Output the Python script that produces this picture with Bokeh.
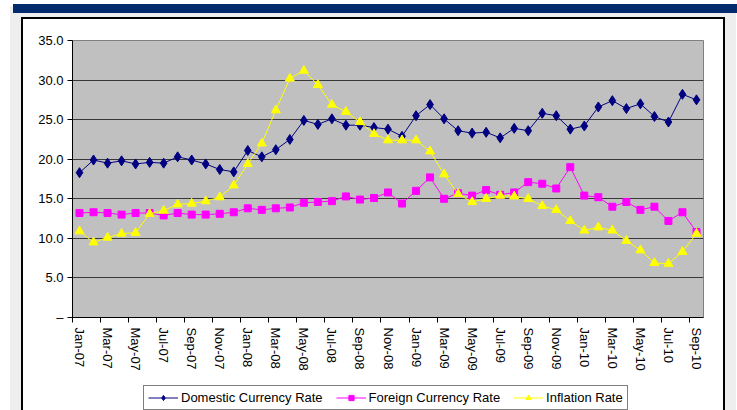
from bokeh.plotting import figure
from bokeh.layouts import column
from bokeh.models import (FixedTicker, NumeralTickFormatter, Legend, LegendItem,
                          Range1d, InlineStyleSheet)
from bokeh.embed import file_html
from bokeh.resources import INLINE

# ---------------- data ----------------
months = ["Jan-07", "Feb-07", "Mar-07", "Apr-07", "May-07", "Jun-07", "Jul-07", "Aug-07",
          "Sep-07", "Oct-07", "Nov-07", "Dec-07", "Jan-08", "Feb-08", "Mar-08", "Apr-08",
          "May-08", "Jun-08", "Jul-08", "Aug-08", "Sep-08", "Oct-08", "Nov-08", "Dec-08",
          "Jan-09", "Feb-09", "Mar-09", "Apr-09", "May-09", "Jun-09", "Jul-09", "Aug-09",
          "Sep-09", "Oct-09", "Nov-09", "Dec-09", "Jan-10", "Feb-10", "Mar-10", "Apr-10",
          "May-10", "Jun-10", "Jul-10", "Aug-10", "Sep-10"]

domestic = [18.3, 19.9, 19.5, 19.8, 19.4, 19.6, 19.5, 20.3, 19.9, 19.4, 18.7, 18.4,
            21.1, 20.3, 21.2, 22.5, 24.9, 24.4, 25.1, 24.3, 24.3, 24.0, 23.8, 22.9,
            25.5, 26.9, 25.1, 23.6, 23.3, 23.4, 22.7, 23.9, 23.6, 25.8, 25.5, 23.8,
            24.2, 26.6, 27.4, 26.4, 27.0, 25.4, 24.7, 28.2, 27.5]

foreign = [13.2, 13.3, 13.2, 13.0, 13.2, 13.2, 12.9, 13.2, 13.0, 13.0, 13.1, 13.3,
           13.8, 13.6, 13.8, 13.9, 14.5, 14.6, 14.7, 15.3, 14.9, 15.1, 15.8, 14.4,
           16.0, 17.7, 15.0, 15.7, 15.4, 16.1, 15.5, 15.8, 17.1, 16.9, 16.3, 19.0,
           15.4, 15.2, 14.0, 14.6, 13.6, 14.0, 12.2, 13.3, 10.8]

inflation = [10.9, 9.5, 10.1, 10.6, 10.7, 13.1, 13.5, 14.3, 14.4, 14.7, 15.2, 16.7,
             19.4, 22.0, 26.2, 30.2, 31.2, 29.4, 26.9, 26.0, 24.7, 23.2, 22.4, 22.4,
             22.4, 21.0, 18.1, 15.6, 14.6, 15.0, 15.4, 15.3, 15.0, 14.1, 13.6, 12.2,
             11.0, 11.4, 11.0, 9.7, 8.5, 6.9, 6.8, 8.3, 10.6]

series_names = ["Domestic Currency Rate", "Foreign Currency Rate", "Inflation Rate"]
series_colors = ["#000080", "#ff00ff", "#ffff00"]
series_markers = ["diamond", "square", "triangle"]
series_sizes = [10, 7, 9]
y_ticks = [0, 5, 10, 15, 20, 25, 30, 35]

idx = list(range(len(months)))
FONT = "Liberation Sans"

p = figure(width=737, height=380, output_backend="svg", toolbar_location=None, tools="",
           x_range=Range1d(-0.5, len(months) - 0.5), y_range=Range1d(0, 35),
           min_border_left=72, min_border_right=34, min_border_top=40, min_border_bottom=63)
p.border_fill_color = "white"
p.background_fill_color = "#c0c0c0"
p.outline_line_color = "#808080"
p.outline_line_width = 1

# x axis: labels every second month, tick marks between categories
p.xaxis.ticker = FixedTicker(ticks=idx[::2], minor_ticks=[i - 0.5 for i in idx[::2]])
p.xaxis.major_label_overrides = {i: months[i] for i in idx[::2]}
p.xaxis.major_label_orientation = "vertical"
p.xaxis.major_tick_line_color = None
p.xaxis.major_tick_out = 5
p.xaxis.major_tick_in = 0
p.xaxis.minor_tick_line_color = "black"
p.xaxis.minor_tick_out = 5
p.xaxis.minor_tick_in = 0
p.xaxis.axis_line_color = "black"
p.xaxis.major_label_standoff = 5
p.xaxis.major_label_text_font = FONT
p.xaxis.major_label_text_font_size = "13px"
p.xaxis.major_label_text_color = "black"

p.yaxis.ticker = FixedTicker(ticks=y_ticks, minor_ticks=[])
p.yaxis.formatter = NumeralTickFormatter(format="0.0")
p.yaxis.major_label_overrides = {0: "\u2013"}
p.yaxis.major_tick_out = 5
p.yaxis.major_tick_in = 0
p.yaxis.major_tick_line_color = "black"
p.yaxis.axis_line_color = "black"
p.yaxis.major_label_standoff = 4
p.yaxis.major_label_text_font = FONT
p.yaxis.major_label_text_font_size = "13px"
p.yaxis.major_label_text_color = "black"

p.xgrid.grid_line_color = None
p.ygrid.ticker = FixedTicker(ticks=y_ticks[1:-1])
p.ygrid.grid_line_color = "#383838"
p.ygrid.grid_line_width = 1

for vals, col, mk, sz in zip([domestic, foreign, inflation], series_colors,
                             series_markers, series_sizes):
    p.line(idx, vals, line_color=col, line_width=1)
    p.scatter(idx, vals, marker=mk, size=sz, fill_color=col, line_color=col)

# legend strip below the chart (its own small figure; legend keys only, nothing plotted)
lf = figure(width=737, height=30, output_backend="svg", toolbar_location=None, tools="",
            x_range=Range1d(0, 1), y_range=Range1d(0, 1), min_border=0,
            x_axis_location=None, y_axis_location=None)
lf.border_fill_color = "white"
lf.background_fill_color = "white"
lf.outline_line_color = None
lf.grid.visible = False
nan = float("nan")
items = []
for name, col, mk, sz in zip(series_names, series_colors, series_markers, series_sizes):
    kl = lf.line([nan], [nan], line_color=col, line_width=1)
    km = lf.scatter([nan], [nan], marker=mk, size=sz, fill_color=col, line_color=col)
    items.append(LegendItem(label=name, renderers=[kl, km]))

legend = Legend(items=items, orientation="horizontal", location=(71, 0),
                border_line_color="black", border_line_width=1,
                background_fill_color="white", background_fill_alpha=1,
                padding=4, spacing=13, margin=0, glyph_width=30, glyph_height=13,
                label_standoff=3, label_text_font=FONT, label_text_font_size="13px",
                label_text_color="black", label_height=13)
lf.add_layout(legend, "center")

root = column(p, lf, spacing=0)

# page decoration (navy band, gray surround, black frame) drawn with CSS pseudo-elements
root.stylesheets = [InlineStyleSheet(css="""
:host { position: relative; }
:host::before { content: ""; position: absolute; left: 13px; top: 4px; width: 724px;
  height: 9px; background: #002a6c; z-index: 20; pointer-events: none; }
:host::after { content: ""; position: absolute; left: 21px; top: 17px; width: 700px;
  height: 391px; border: 2px solid black; border-bottom: none;
  box-shadow: 0 0 0 11px #eeeeee; z-index: 10; pointer-events: none; }
""")]

open("out.html", "w").write(file_html(root, INLINE))
